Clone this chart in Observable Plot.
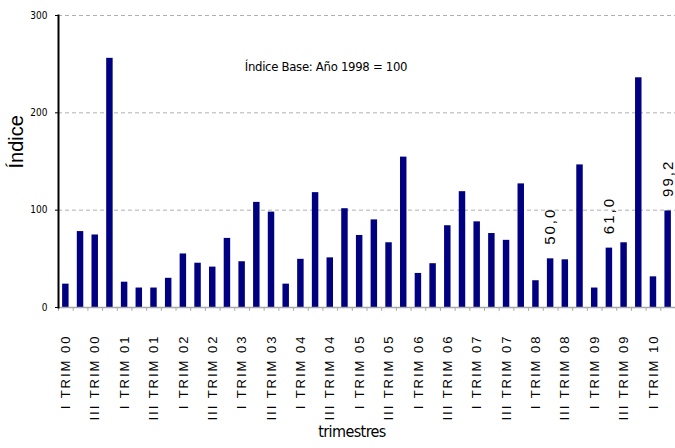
<!DOCTYPE html>
<html>
<head>
<meta charset="utf-8">
<script src="https://cdn.jsdelivr.net/npm/d3@7"></script>
<script src="https://cdn.jsdelivr.net/npm/@observablehq/plot@0.6"></script>
<style>
  html, body { margin: 0; padding: 0; background: #fff; }
  .xlab text { letter-spacing: 2px; }
  .vlab text { letter-spacing: 2px; }
  .xtitle text { letter-spacing: -0.6px; }
  .note text { letter-spacing: -0.3px; }
</style>
</head>
<body>
<div id="chart"></div>
<script>
const quarters = [
  "I TRIM 00","II TRIM 00","III TRIM 00","IV TRIM 00",
  "I TRIM 01","II TRIM 01","III TRIM 01","IV TRIM 01",
  "I TRIM 02","II TRIM 02","III TRIM 02","IV TRIM 02",
  "I TRIM 03","II TRIM 03","III TRIM 03","IV TRIM 03",
  "I TRIM 04","II TRIM 04","III TRIM 04","IV TRIM 04",
  "I TRIM 05","II TRIM 05","III TRIM 05","IV TRIM 05",
  "I TRIM 06","II TRIM 06","III TRIM 06","IV TRIM 06",
  "I TRIM 07","II TRIM 07","III TRIM 07","IV TRIM 07",
  "I TRIM 08","II TRIM 08","III TRIM 08","IV TRIM 08",
  "I TRIM 09","II TRIM 09","III TRIM 09","IV TRIM 09",
  "I TRIM 10","II TRIM 10"
];
const values = [
  24, 78, 74.5, 256,
  26, 20, 20, 30,
  55, 45.5, 41.5, 71,
  47, 108, 98, 24,
  49.5, 118, 51, 101.5,
  74, 90, 66.5, 154.5,
  35, 45, 84, 119,
  88, 76, 69, 127,
  27.5, 50.0, 49, 146.5,
  20, 61.0, 66.5, 236,
  31.5, 99.2
];
const tickLabels = [
  "I TRIM 00","III TRIM 00","I TRIM 01","III TRIM 01","I TRIM 02","III TRIM 02",
  "I TRIM 03","III TRIM 03","I TRIM 04","III TRIM 04","I TRIM 05","III TRIM 05",
  "I TRIM 06","III TRIM 06","I TRIM 07","III TRIM 07","I TRIM 08","III TRIM 08",
  "I TRIM 09","III TRIM 09","I TRIM 10"
];
const yTicks = [0, 100, 200, 300];
const annotQuarters = ["II TRIM 08", "II TRIM 09", "II TRIM 10"];
const annotValues = [50.0, 61.0, 99.2];
const annotTexts = ["50,0", "61,0", "99,2"];

const data = quarters.map((q, i) => ({q, v: values[i]}));
const annot = annotQuarters.map((q, i) => ({q, v: annotValues[i], t: annotTexts[i]}));

const W = 675, H = 448, mL = 58, mR = 0, mT = 15, mB = 141;
const step = (W - mL - mR) / quarters.length;
const sans = "'Liberation Sans', Arial, sans-serif";
const narrow = "'Liberation Sans Narrow', 'Arial Narrow', 'DejaVu Sans Condensed', sans-serif";

const chart = Plot.plot({
  width: W, height: H,
  marginLeft: mL, marginRight: mR, marginTop: mT, marginBottom: mB,
  style: {fontFamily: sans, color: "#000", background: "#fff"},
  x: {domain: quarters, paddingInner: 0.56, paddingOuter: 0.28, round: false},
  y: {domain: [0, 300]},
  marks: [
    Plot.gridY([100, 200, 300], {stroke: "#b0b0b0", strokeOpacity: 1, strokeDasharray: "4,3", strokeWidth: 1}),
    Plot.barY(data, {x: "q", y: "v", fill: "#000080"}),
    Plot.ruleY([0], {stroke: "#a8a8a8", strokeWidth: 1.5}),
    Plot.ruleX(quarters, {x: d => d, dx: -step / 2, y1: 0, y2: -4, stroke: "#a8a8a8"}),
    Plot.frame({anchor: "left", stroke: "#000", strokeWidth: 2}),
    Plot.axisY({ticks: yTicks, tickSize: 3, tickPadding: 8, label: null, fontSize: 10, fontFamily: narrow}),
    Plot.axisX({ticks: tickLabels, tickRotate: -90, tickSize: 0, tickPadding: 27, label: null, fontSize: 13, fontFamily: sans, className: "xlab"}),
    Plot.text(annot, {x: "q", y: "v", text: "t", rotate: -90, textAnchor: "start", dy: -14, fontSize: 15, fontFamily: sans, className: "vlab"}),
    Plot.text(["Índice"], {frameAnchor: "left", dx: -42, dy: 7, rotate: -90, fontSize: 20, fontFamily: sans}),
    Plot.text(["trimestres"], {frameAnchor: "bottom", dx: -15, dy: 129, fontSize: 16, fontFamily: narrow, className: "xtitle"}),
    Plot.text(["Índice Base: Año 1998 = 100"], {frameAnchor: "top", dx: -41, dy: 46, fontSize: 13, fontFamily: narrow, className: "note"})
  ]
});
document.getElementById("chart").appendChild(chart);
</script>
</body>
</html>
